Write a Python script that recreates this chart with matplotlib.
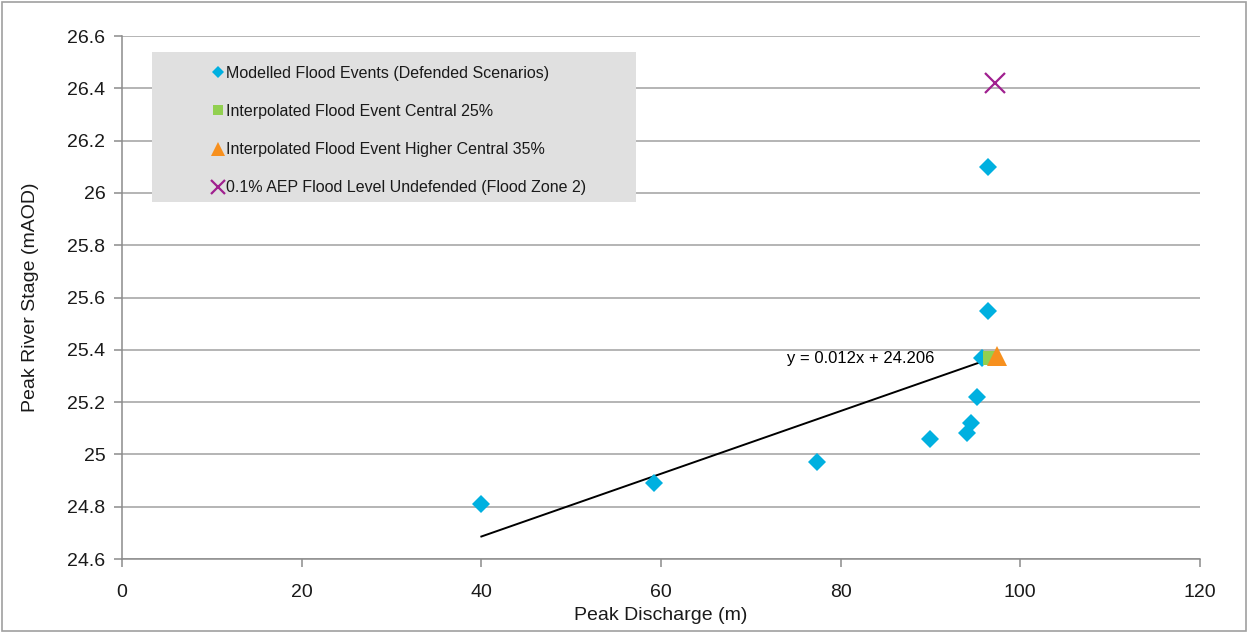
import numpy as np
import matplotlib
matplotlib.use("Agg")
import matplotlib.pyplot as plt
from matplotlib.patches import Rectangle

plt.rcParams['font.family'] = ['Liberation Sans Narrow', 'Liberation Sans', 'DejaVu Sans']

# modelled defended scenarios
modelled_q = [40.0, 59.2, 77.4, 90.0, 94.1, 94.5, 95.2, 95.7, 96.4, 96.4]
modelled_h = [24.81, 24.89, 24.97, 25.06, 25.08, 25.12, 25.22, 25.37, 25.55, 26.10]

central25_q = [96.6]
central25_h = [25.37]

higher35_q = [97.4]
higher35_h = [25.375]

zone2_q = [97.2]
zone2_h = [26.42]

# linear trend shown on chart
slope = 0.012
intercept = 24.206
trend_x = [40.0, 96.6]

grid_col = '#a0a0a0'

fig = plt.figure(figsize=(12.48, 6.33), dpi=100)
ax = fig.add_axes([0.0978, 0.1169, 0.8637, 0.8262])

ax.set_xlim(0, 120)
ax.set_ylim(24.6, 26.6)
ax.set_xticks(np.arange(0, 121, 20))
ax.set_yticks(np.round(np.arange(24.6, 26.61, 0.2), 1))
ax.set_yticklabels(['24.6', '24.8', '25', '25.2', '25.4', '25.6', '25.8',
                    '26', '26.2', '26.4', '26.6'])
ax.yaxis.grid(True, color=grid_col, linewidth=1.1)
ax.set_axisbelow(True)
for s in ['top', 'right']:
    ax.spines[s].set_visible(False)
for s in ['left', 'bottom']:
    ax.spines[s].set_color('#8c8c8c')
    ax.spines[s].set_linewidth(1.1)
ax.tick_params(axis='both', colors='#8c8c8c', length=6, width=1.1,
               labelcolor='#1a1a1a', labelsize=14)
ax.tick_params(axis='x', pad=12)
ax.tick_params(axis='y', pad=6)

ax.set_xlabel('Peak Discharge (m)', fontsize=14, color='#1a1a1a', labelpad=4)
ax.set_ylabel('Peak River Stage (mAOD)', fontsize=14, color='#1a1a1a', labelpad=20)

tx = np.array(trend_x)
ax.plot(tx, slope * tx + intercept, color='black', linewidth=1.4, zorder=2)

ax.plot(modelled_q, modelled_h, 'D', color='#00b0e0', ms=9.5, mew=0, zorder=3,
        label='Modelled Flood Events (Defended Scenarios)')
ax.plot(central25_q, central25_h, 's', color='#92d050', ms=10, mew=0, zorder=4,
        label='Interpolated Flood Event Central 25%')
ax.plot(higher35_q, higher35_h, '^', color='#f7901e', ms=15, mew=0, zorder=5,
        label='Interpolated Flood Event Higher Central 35%')
ax.plot(zone2_q, zone2_h, 'x', color='#a0208f', ms=15, mew=1.6, zorder=5,
        label='0.1% AEP Flood Level Undefended (Flood Zone 2)')

ax.annotate('y = 0.012x + 24.206', xy=(trend_x[1], slope * trend_x[1] + intercept),
            xytext=(-40, 0), textcoords='offset points', ha='right', va='center',
            fontsize=12, family=['Liberation Sans', 'DejaVu Sans'], color='black')

# legend background box
ax.add_patch(Rectangle((0.0278, 0.6826), 0.449, 0.287, transform=ax.transAxes,
                       facecolor='#e0e0e0', edgecolor='none', zorder=1.5))
leg = ax.legend(loc='upper left', bbox_to_anchor=(0.085, 0.943), frameon=False,
                fontsize=11.5, handlelength=0.6, handletextpad=0.15,
                labelspacing=1.45, markerscale=0.68, borderaxespad=0,
                borderpad=0)
for t in leg.get_texts():
    t.set_color('#1a1a1a')

# outer chart border
fig.add_artist(Rectangle((0.002, 0.003), 0.996, 0.994, transform=fig.transFigure,
                         facecolor='none', edgecolor='#a0a0a0', linewidth=1.2))

fig.savefig('out.png', dpi=100)
